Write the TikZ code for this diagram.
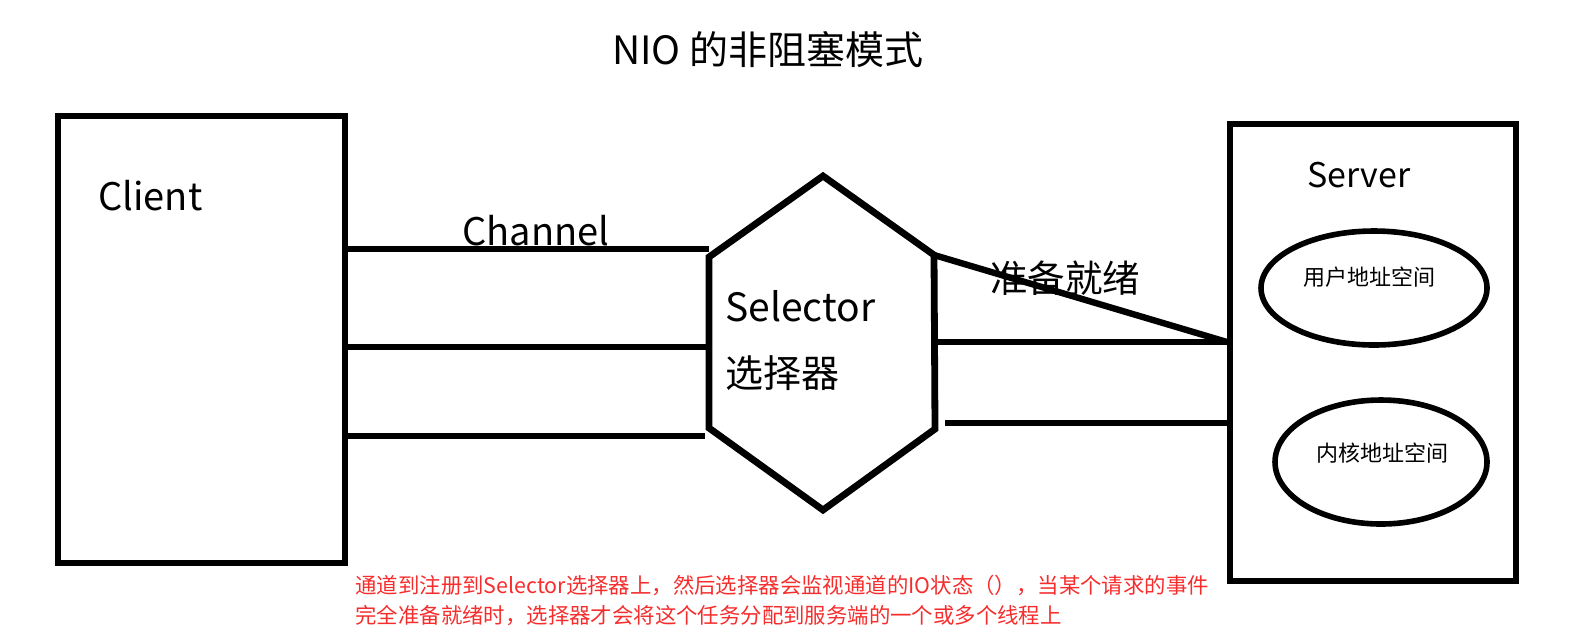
\documentclass[tikz,border=0pt]{standalone}
\usepackage{fontspec}
\setmainfont{Noto Sans CJK SC}
\usepackage{xcolor}
\usepackage{tikz}
\usetikzlibrary{positioning, shapes.geometric}

\definecolor{notered}{RGB}{245,45,45}

\begin{document}
\begin{tikzpicture}[
x=0.5pt, y=-0.5pt,
box/.style={
rectangle,
draw,
line width=3pt,
inner sep=0pt
},
space/.style={
ellipse,
draw,
line width=2.8pt,
inner sep=0pt
},
pipe/.style={
line width=3.2pt
},
lbl/.style={
inner sep=0pt,
font=\fontsize{19}{22}\selectfont
}
]
\useasboundingbox (0,0) rectangle (1593,639);

\node[lbl, font=\fontsize{19.5}{22}\selectfont] (title) at (768,50)
{NIO 的非阻塞模式};

% client and server
\node[box, minimum width=143.5pt, minimum height=223.5pt] (client) at (201.5,339.5) {};
\node[box, minimum width=143pt, minimum height=228.5pt] (server) at (1373,352.5) {};

\node[lbl, anchor=west] (clientlbl) at (98,196) {Client};
\node[lbl, anchor=base west, font=\fontsize{17}{20}\selectfont] (serverlbl) at (1307,187) {Server};

% address spaces
\node[space, minimum width=113pt, minimum height=57pt] (user) at (1374,288) {};
\node[space, minimum width=106pt, minimum height=62pt] (kernel) at (1381,462) {};
\node[lbl, font=\fontsize{11}{13}\selectfont] (userlbl) at (1369,277) {用户地址空间};
\node[lbl, font=\fontsize{11}{13}\selectfont] (kernellbl) at (1382,453) {内核地址空间};

% selector
\coordinate (hexT) at (823,176);
\coordinate (hexUR) at (934,255);
\coordinate (hexLR) at (935,429);
\coordinate (hexB) at (823,510);
\coordinate (hexLL) at (709,428);
\coordinate (hexUL) at (709,257);
\draw[line width=3.4pt] (hexT) -- (hexUR) -- (hexLR) -- (hexB) -- (hexLL) -- (hexUL) -- cycle;

\node[lbl, anchor=base west, font=\fontsize{19.5}{22}\selectfont] (sel) at (725,321) {Selector};
\node[lbl, anchor=west] (selcn) at (725,373) {选择器};

% channels
\coordinate (in1) at (709,249);
\coordinate (in2) at (709,347);
\coordinate (in3) at (705,436);
\draw[pipe] (in1 -| client.east) -- (in1);
\draw[pipe] (in2 -| client.east) -- (in2);
\draw[pipe] (in3 -| client.east) -- (in3);
\node[lbl, anchor=base west] (chan) at (462,245) {Channel};

\coordinate (out2) at (935,342);
\coordinate (out3) at (945,423);
\draw[pipe] (hexUR) -- (out2 -| server.west);
\draw[pipe] (out2) -- (out2 -| server.west);
\draw[pipe] (out3) -- (out3 -| server.west);
\node[lbl, font=\fontsize{18.75}{22}\selectfont] (ready) at (1065,278) {准备就绪};

\node[lbl, anchor=west, align=left, text=notered, font=\fontsize{10.7}{15}\selectfont] (note) at (355,600)
{通道到注册到Selector选择器上，然后选择器会监视通道的IO状态（），当某个请求的事件\\
完全准备就绪时，选择器才会将这个任务分配到服务端的一个或多个线程上};

\end{tikzpicture}
\end{document}
